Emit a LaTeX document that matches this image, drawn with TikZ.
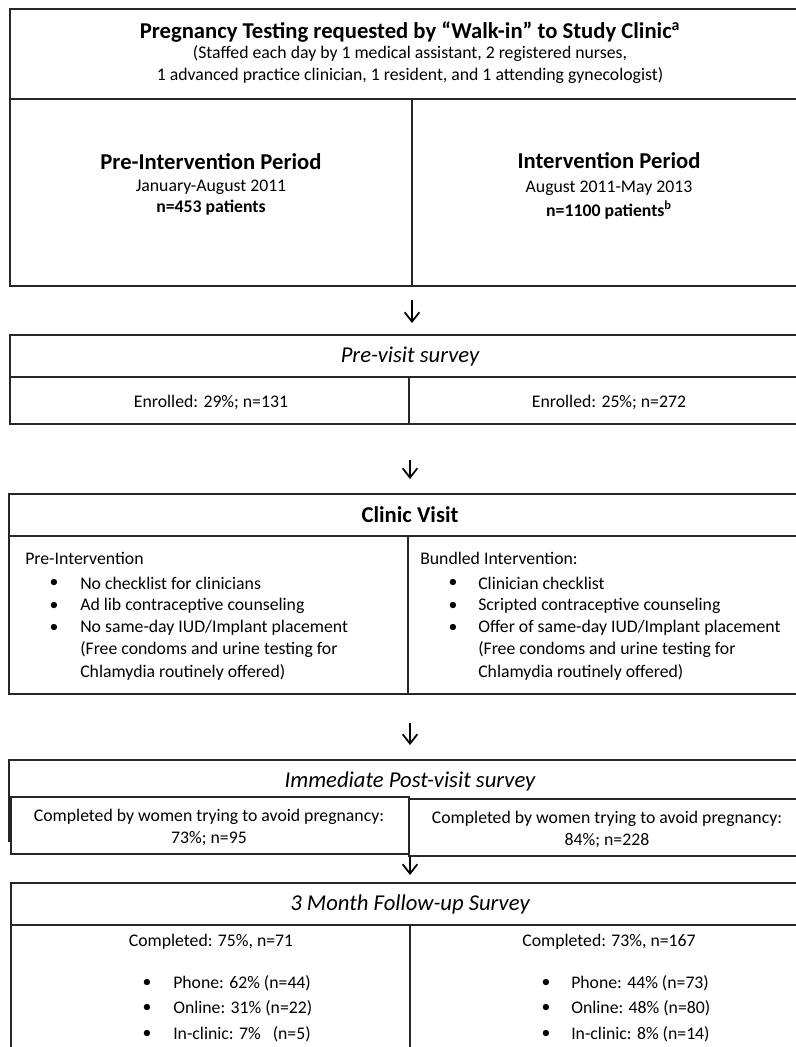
\documentclass[tikz,border=0pt]{standalone}
\usepackage{fontspec}
\setmainfont{Carlito}
\usetikzlibrary{arrows.meta}

\tikzset{
  frame/.style = {draw=black!85, line width=1.4pt},
  flow/.style  = {black, line width=1.3pt, -{Straight Barb[length=7pt,width=11pt]}},
  head/.style  = {inner sep=0pt, font=\fontsize{17}{20}\selectfont\bfseries},
  ihead/.style = {inner sep=0pt, font=\fontsize{17}{20}\selectfont\itshape},
  body/.style  = {inner sep=0pt, font=\fontsize{13.3}{16.5}\selectfont},
  bold/.style  = {inner sep=0pt, font=\fontsize{13.3}{16.5}\selectfont\bfseries},
}

\begin{document}
\begin{tikzpicture}[x=0.75pt, y=-0.75pt]

    \useasboundingbox (0,0) rectangle (796,1047);

    % study clinic
    \draw[frame] (10,9) rectangle (812,286);
    \draw[frame] (10,99) -- (812,99);
    \draw[frame] (412,99) -- (412,286);

    \node[head] (clinic) at (410,32) {Pregnancy Testing requested by “Walk-in” to Study Clinic\textsuperscript{a}};
    \node[body, align=center] (staff) at (410,65)
        {(Staffed each day by 1 medical assistant, 2 registered nurses,\\
         1 advanced practice clinician, 1 resident, and 1 attending gynecologist)};

    \node[head] (prehead) at (211,162) {Pre-Intervention Period};
    \node[body] (predate) at (211,187) {January-August 2011};
    \node[bold] (pren) at (211,208) {n=453 patients};

    \node[head] (inthead) at (609,161) {Intervention Period};
    \node[body] (intdate) at (609,188) {August 2011-May 2013};
    \node[bold] (intn) at (609,210) {n=1100 patients\textsuperscript{b}};

    % pre-visit survey
    \draw[frame] (10,335) rectangle (812,424);
    \draw[frame] (10,377) -- (812,377);
    \draw[frame] (409,377) -- (409,424);

    \node[ihead] (previsit) at (410,357) {Pre-visit survey};
    \node[body] (preenrol) at (211,402) {Enrolled: 29\%; n=131};
    \node[body] (intenrol) at (609,402) {Enrolled: 25\%; n=272};

    % clinic visit
    \draw[frame] (9,494) rectangle (812,694);
    \draw[frame] (9,536) -- (812,536);
    \draw[frame] (408,536) -- (408,694);

    \node[head] (visit) at (410,515) {Clinic Visit};
    \node[body, anchor=west] (prelist) at (25,558) {Pre-Intervention};
    \node[body, anchor=west] (intlist) at (420,558) {Bundled Intervention:};

    \foreach \y/\t [count=\i] in {583/{No checklist for clinicians},
                                  606/{Ad lib contraceptive counseling},
                                  628/{No same-day IUD/Implant placement},
                                  650/{(Free condoms and urine testing for},
                                  672/{Chlamydia routinely offered)}}
        \node[body, anchor=west] (pre\i) at (80,\y) {\t};
    \foreach \y/\t [count=\i] in {583/{Clinician checklist},
                                  606/{Scripted contraceptive counseling},
                                  628/{Offer of same-day IUD/Implant placement},
                                  650/{(Free condoms and urine testing for},
                                  672/{Chlamydia routinely offered)}}
        \node[body, anchor=west] (int\i) at (478,\y) {\t};
    \foreach \y [count=\i] in {583,606,628} {
        \node[body] (prebul\i) at (54,\y) {\textbullet};
        \node[body] (intbul\i) at (453,\y) {\textbullet};
    }

    % immediate post-visit survey
    \draw[frame] (9,842) -- (9,760) -- (812,760);
    \draw[frame] (11,797) rectangle (409,854);
    \draw[frame] (409,799) rectangle (812,856);

    \node[ihead] (postvisit) at (410,781) {Immediate Post-visit survey};
    \node[body, align=center] (prepost) at (209,827)
        {Completed by women trying to avoid pregnancy:\\73\%; n=95};
    \node[body, align=center] (intpost) at (607,829)
        {Completed by women trying to avoid pregnancy:\\84\%; n=228};

    % 3 month follow-up
    \draw[frame] (11,1060) -- (11,883) -- (812,883);
    \draw[frame] (11,925) -- (812,925);
    \draw[frame] (410,925) -- (410,1060);

    \node[ihead] (followup) at (410,904) {3 Month Follow-up Survey};
    \node[body] (predone) at (211,942) {Completed: 75\%, n=71};
    \node[body] (intdone) at (609,942) {Completed: 73\%, n=167};

    \foreach \y/\a/\b [count=\i] in {983/{Phone: 62\% (n=44)}/{Phone: 44\% (n=73)},
                                     1008/{Online: 31\% (n=22)}/{Online: 48\% (n=80)},
                                     1034/{In-clinic: 7\%\ \ \ (n=5)}/{In-clinic: 8\% (n=14)}} {
        \node[body] (prefbul\i) at (147,\y) {\textbullet};
        \node[body, anchor=west] (pref\i) at (173,\y) {\a};
        \node[body] (intfbul\i) at (546,\y) {\textbullet};
        \node[body, anchor=west] (intf\i) at (571,\y) {\b};
    }

    % arrows
    \coordinate (a1) at (412,300);  \coordinate (b1) at (412,323);
    \coordinate (a2) at (410,460);  \coordinate (b2) at (410,479);
    \coordinate (a3) at (410,723);  \coordinate (b3) at (410,745);
    \coordinate (a4) at (410,857);  \coordinate (b4) at (410,875);
    \foreach \i in {1,...,4}
        \draw[flow] (a\i) -- (b\i);

\end{tikzpicture}
\end{document}
